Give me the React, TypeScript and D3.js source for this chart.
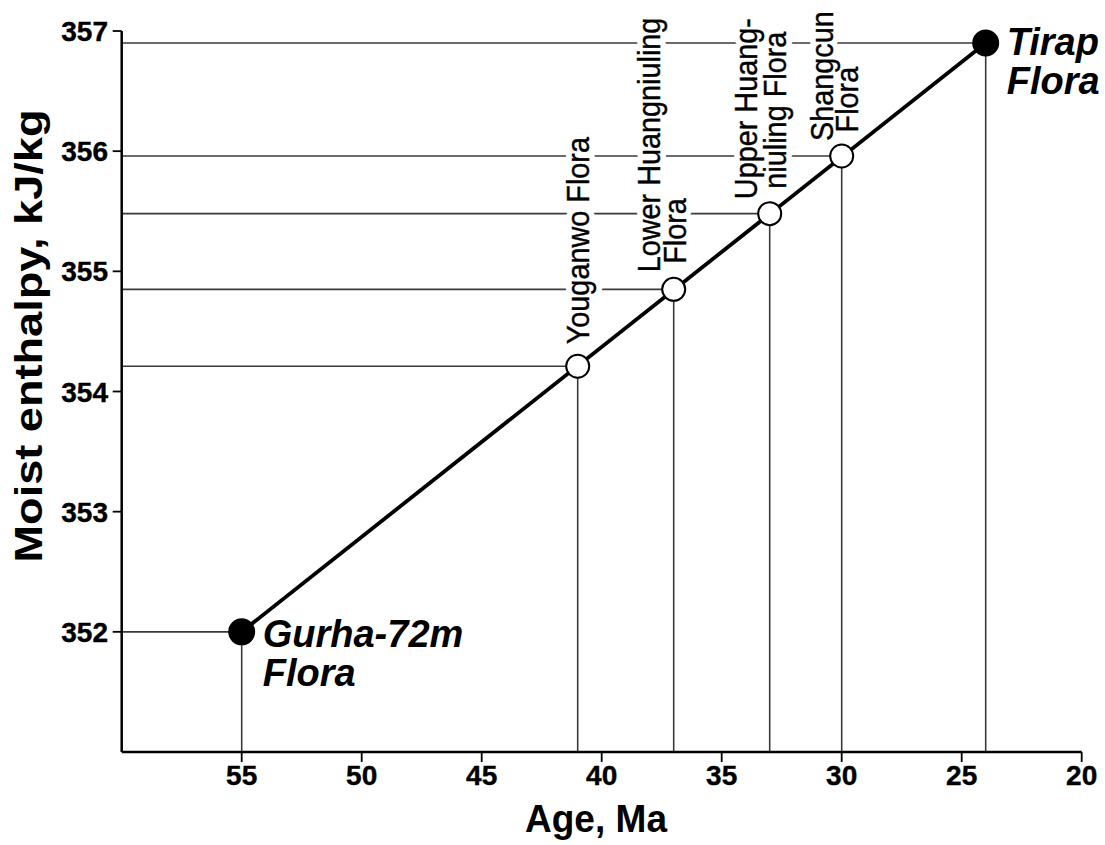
import React from "react";
import * as d3 from "d3";

// ---- data ----
const floraAges = [55, 41, 37, 33, 30, 24];
const floraEnthalpy = [352.0, 354.21, 354.85, 355.48, 355.96, 356.9];
const floraLabelLines = [
  ["Gurha-72m", "Flora"],
  ["Youganwo Flora"],
  ["Lower Huangniuling", "Flora"],
  ["Upper Huang-", "niuling Flora"],
  ["Shangcun", "Flora"],
  ["Tirap", "Flora"],
];
const floraFilled = [true, false, false, false, false, true];
const xTicks = [55, 50, 45, 40, 35, 30, 25, 20];
const yTicks = [352, 353, 354, 355, 356, 357];
const xTitle = "Age, Ma";
const yTitle = "Moist enthalpy, kJ/kg";

// ---- layout ----
const W = 1105;
const H = 845;
const FONT = "'Liberation Sans', Arial, Helvetica, sans-serif";
const x = d3.scaleLinear().domain([60, 20]).range([121.7, 1081.7]);
const y = d3.scaleLinear().domain([351, 357]).range([752, 31]);

// offsets of each label line relative to its point: [dx, dy]
// rotated labels: dx = baseline x offset, dy = text start offset
const rotatedOffsets: Record<number, [number, number][]> = {
  1: [[11, -22]],
  2: [[-13.5, -17], [12, -25.5]],
  3: [[-13, -14.5], [16, -25]],
  4: [[-9, -15], [16, -23.5]],
};
const boldOffsets: Record<number, [number, number]> = {
  0: [21, 15],
  5: [21, 12],
};

export default function App() {
  const pts = floraAges.map((a, i) => ({
    px: x(a),
    py: y(floraEnthalpy[i]),
    i,
  }));
  const first = pts[0];
  const last = pts[pts.length - 1];
  const line = d3.line<{ px: number; py: number }>().x((d) => d.px).y((d) => d.py);

  const rotatedLabels = (halo: boolean) =>
    pts
      .filter((p) => rotatedOffsets[p.i])
      .map((p) =>
        floraLabelLines[p.i].map((t, k) => {
          const [dx, dy] = rotatedOffsets[p.i][k];
          return (
            <text
              key={`${p.i}-${k}-${halo}`}
              transform={`translate(${p.px + dx},${p.py + dy}) rotate(-90) scale(0.93,1)`}
              fontFamily={FONT}
              fontSize={31}
              fill="#000"
              stroke={halo ? "#fff" : "#000"}
              strokeWidth={halo ? 12 : 0.4}
              strokeLinejoin="round"
            >
              {t}
            </text>
          );
        })
      );

  return (
    <svg
      width={W}
      height={H}
      style={{ position: "absolute", left: 0, top: 0, background: "#fff" }}
    >
      {/* reference lines */}
      <g stroke="#3a3a3a" strokeWidth={1.6}>
        {pts.map((p) => (
          <line key={`h${p.i}`} x1={x(60)} x2={p.px} y1={p.py} y2={p.py} />
        ))}
        {pts.map((p) => (
          <line key={`v${p.i}`} x1={p.px} x2={p.px} y1={p.py} y2={y(351)} />
        ))}
      </g>

      {/* label halos cut the reference lines */}
      <g>{rotatedLabels(true)}</g>

      {/* axes */}
      <g stroke="#000" strokeWidth={2.5} fill="none">
        <line x1={x(60)} x2={x(60)} y1={y(357)} y2={y(351)} />
        <line x1={x(60)} x2={x(20)} y1={y(351)} y2={y(351)} />
        {yTicks.map((t) => (
          <line key={`yt${t}`} x1={x(60) - 9} x2={x(60)} y1={y(t)} y2={y(t)} strokeWidth={1.8} />
        ))}
        {xTicks.map((t) => (
          <line key={`xt${t}`} x1={x(t)} x2={x(t)} y1={y(351)} y2={y(351) + 10} strokeWidth={1.8} />
        ))}
      </g>
      <g fontFamily={FONT} fontWeight="bold" fontSize={28} fill="#000" stroke="#000" strokeWidth={0.4}>
        {yTicks.map((t) => (
          <text key={`yl${t}`} x={108} y={y(t) + 10} textAnchor="end">
            {t}
          </text>
        ))}
        {xTicks.map((t) => (
          <text key={`xl${t}`} x={x(t)} y={785} textAnchor="middle">
            {t}
          </text>
        ))}
      </g>
      <text
        x={596}
        y={832}
        textAnchor="middle"
        fontFamily={FONT}
        fontWeight="bold"
        fontSize={39}
        textLength={142}
        lengthAdjust="spacingAndGlyphs"
      >
        {xTitle}
      </text>
      <text
        transform={`translate(42,336) rotate(-90)`}
        textAnchor="middle"
        fontFamily={FONT}
        fontWeight="bold"
        fontSize={38}
        textLength={453}
        lengthAdjust="spacingAndGlyphs"
      >
        {yTitle}
      </text>

      {/* trend line */}
      <path d={line([first, last]) || ""} stroke="#000" strokeWidth={3.8} fill="none" />

      {/* markers */}
      {pts.map((p) => (
        <circle
          key={`c${p.i}`}
          cx={p.px}
          cy={p.py}
          r={floraFilled[p.i] ? 12.5 : 11.5}
          fill={floraFilled[p.i] ? "#000" : "#fff"}
          stroke="#000"
          strokeWidth={2}
        />
      ))}

      {/* rotated labels */}
      <g>{rotatedLabels(false)}</g>

      {/* bold italic end labels */}
      {pts
        .filter((p) => boldOffsets[p.i])
        .map((p) =>
          floraLabelLines[p.i].map((t, k) => (
            <text
              key={`b${p.i}-${k}`}
              x={p.px + boldOffsets[p.i][0]}
              y={p.py + boldOffsets[p.i][1] + k * 39}
              fontFamily={FONT}
              fontWeight="bold"
              fontStyle="italic"
              fontSize={38}
              fill="#000"
            >
              {t}
            </text>
          ))
        )}
    </svg>
  );
}
